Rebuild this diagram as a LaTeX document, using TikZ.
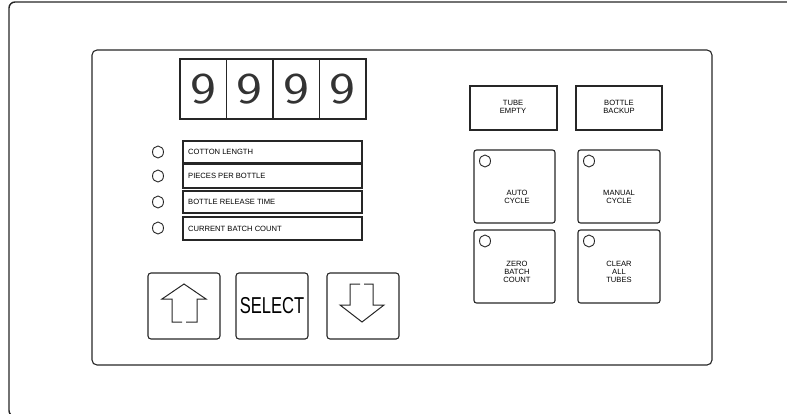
\documentclass[tikz,border=0pt]{standalone}
\usepackage{fontspec}
\setmainfont{Liberation Sans}
\usetikzlibrary{shapes.geometric}
\begin{document}
\begin{tikzpicture}[x=1pt,y=-1pt,
  ln/.style={draw=black!85, line width=1.1pt},
  box/.style={ln, rectangle, anchor=north west, inner sep=0pt, outer sep=0pt},
  rbox/.style={box, rounded corners=2.5pt},
  lamp/.style={draw=black!85, line width=0.9pt, ellipse, minimum width=11pt, minimum height=12pt, inner sep=0pt},
  tiny/.style={font=\fontsize{7.6}{7.8}\selectfont, align=center, inner sep=0pt},
  rowtxt/.style={font=\fontsize{7.6}{7.6}\selectfont, anchor=west, inner sep=0pt},
  digit/.style={font=\sffamily\fontsize{44}{44}\selectfont, inner sep=0pt, text=black!80}
]
\useasboundingbox (0,0) rectangle (787,413);
% outer frame
\draw[ln, line width=1.4pt, rounded corners=6pt] (820,416.5) -- (9,416.5) -- (9,2) -- (820,2);
% inner panel
\node[box, rounded corners=5pt, minimum width=620pt, minimum height=315pt] (panel) at (92,50) {};
% digit display
\node[box, minimum width=46.5pt, minimum height=60pt] (d1) at (180,59) {};
\node[box, minimum width=46.5pt, minimum height=60pt] (d2) at (226.5,59) {};
\node[box, minimum width=46.5pt, minimum height=60pt] (d3) at (273,59) {};
\node[box, minimum width=46.5pt, minimum height=60pt] (d4) at (319.5,59) {};
\foreach \d in {d1,d2,d3,d4} {\node[digit] (t\d) at (\d.center) {\scalebox{1.25}[1]{9}};}
% parameter rows
\node[box, minimum width=179pt, minimum height=22pt] (r1) at (183,141) {};
\node[box, minimum width=179pt, minimum height=24pt] (r2) at (183,164) {};
\node[box, minimum width=179pt, minimum height=22pt] (r3) at (183,191) {};
\node[box, minimum width=179pt, minimum height=23pt] (r4) at (183,217) {};
\node[rowtxt] (tr1) at ([xshift=5pt]r1.west) {COTTON LENGTH};
\node[rowtxt] (tr2) at ([xshift=5pt]r2.west) {PIECES PER BOTTLE};
\node[rowtxt] (tr3) at ([xshift=5pt]r3.west) {BOTTLE RELEASE TIME};
\node[rowtxt] (tr4) at ([xshift=5pt]r4.west) {CURRENT BATCH COUNT};
\node[lamp] (l1) at (158,152) {};
\node[lamp] (l2) at (158,176) {};
\node[lamp] (l3) at (158,202) {};
\node[lamp] (l4) at (158,228) {};
% right indicators
\node[box, minimum width=87pt, minimum height=44pt] (te) at (470,86) {};
\node[box, minimum width=86pt, minimum height=44pt] (bb) at (576,86) {};
\node[tiny] (tte) at (513,107) {TUBE\\EMPTY};
\node[tiny] (tbb) at (619,107) {BOTTLE\\BACKUP};
% right buttons
\node[rbox, minimum width=81pt, minimum height=73pt] (auto) at (474,150) {};
\node[rbox, minimum width=82pt, minimum height=73pt] (man) at (578,150) {};
\node[rbox, minimum width=81pt, minimum height=73pt] (zero) at (474,230) {};
\node[rbox, minimum width=82pt, minimum height=73pt] (clr) at (578,230) {};
\node[lamp] (la) at (485,161) {};
\node[lamp] (lm) at (589,161) {};
\node[lamp] (lz) at (485,241) {};
\node[lamp] (lc) at (589,241) {};
\node[tiny] (ta) at (517,197) {AUTO\\CYCLE};
\node[tiny] (tm) at (619,197) {MANUAL\\CYCLE};
\node[tiny] (tz) at (517,272) {ZERO\\BATCH\\COUNT};
\node[tiny] (tc) at (619,272) {CLEAR\\ALL\\TUBES};
% bottom buttons
\node[rbox, rounded corners=3pt, minimum width=72pt, minimum height=66pt] (up) at (148,273) {};
\node[rbox, rounded corners=3pt, minimum width=72pt, minimum height=66pt] (sel) at (236,273) {};
\node[rbox, rounded corners=3pt, minimum width=72pt, minimum height=66pt] (dn) at (327,273) {};
\node[inner sep=0pt, font=\fontsize{23}{23}\selectfont] (tsel) at (sel.center) {\scalebox{0.72}[1]{SELECT}};
% arrows
\draw[ln, line width=1pt] (186,322) -- (197,322) -- (197,299) -- (206,299) -- (184,284) -- (162,299) -- (172,299) -- (172,322) -- (182,322);
\draw[ln, line width=1pt] (360,284) -- (350,284) -- (350,305) -- (340,305) -- (362,322) -- (384,305) -- (373,305) -- (373,284) -- (364,284);
\end{tikzpicture}
\end{document}
